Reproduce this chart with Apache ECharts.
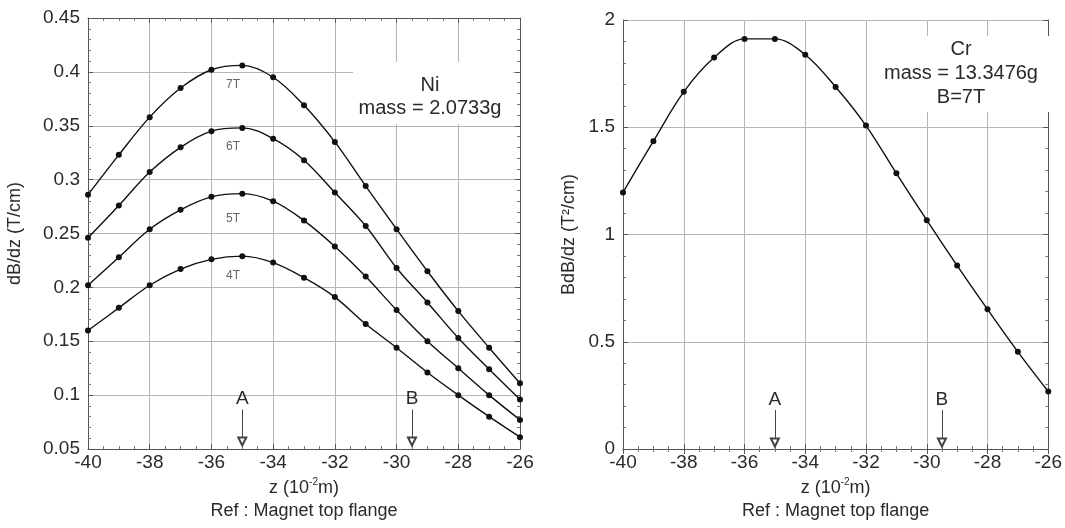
<!DOCTYPE html>
<html>
<head>
<meta charset="utf-8">
<script src="https://cdn.jsdelivr.net/npm/echarts@6/dist/echarts.min.js"></script>
<style>
html, body { margin: 0; padding: 0; background: #fff; }
#main { width: 1065px; height: 528px; }
</style>
</head>
<body>
<div id="main"></div>
<script>
var z = [-40, -39, -38, -37, -36, -35, -34, -33, -32, -31, -30, -29, -28, -27, -26];

// Ni, dB/dz (T/cm)
var ni7T = [0.286, 0.323, 0.358, 0.385, 0.402, 0.406, 0.395, 0.369, 0.335, 0.294, 0.254, 0.215, 0.178, 0.144, 0.111];
var ni6T = [0.246, 0.276, 0.307, 0.330, 0.345, 0.348, 0.338, 0.318, 0.288, 0.257, 0.218, 0.186, 0.153, 0.124, 0.096];
var ni5T = [0.202, 0.228, 0.254, 0.272, 0.284, 0.287, 0.280, 0.262, 0.238, 0.210, 0.179, 0.150, 0.125, 0.100, 0.077];
var ni4T = [0.160, 0.181, 0.202, 0.217, 0.226, 0.229, 0.223, 0.209, 0.191, 0.166, 0.144, 0.121, 0.100, 0.080, 0.061];

// Cr, BdB/dz (T^2/cm), B=7T
var cr7T = [1.196, 1.435, 1.665, 1.825, 1.912, 1.912, 1.838, 1.688, 1.508, 1.285, 1.067, 0.855, 0.651, 0.453, 0.268];

var fieldNames = ['7T', '6T', '5T', '4T'];
var arrowNames = ['A', 'B'];
var arrowZ = [-35, -29.5];

var FONT = '"Liberation Sans", Arial, sans-serif';
var TXT = '#2a2a2a';

function pairs(ys) {
	var out = [];
	for (var i = 0; i < z.length; i++) out.push([z[i], ys[i]]);
	return out;
}

function xAxes(grid) {
	var base = {
		gridIndex: grid,
		type: 'value',
		min: -40,
		max: -26,
		interval: 2,
		axisLine: { show: true, lineStyle: { color: '#555', width: 1 } },
		axisTick: { show: true, inside: true, length: 5, lineStyle: { color: '#555' } },
		minorTick: { show: true, splitNumber: 4, length: 3, lineStyle: { color: '#777' } }
	};
	var bottom = Object.assign({}, base, {
		position: 'bottom',
		splitLine: { show: true, lineStyle: { color: '#b5b5b5', width: 1 } },
		axisLabel: { color: TXT, fontSize: 19, fontFamily: FONT, margin: 4 },
		name: '{a|z (10}{s|-2}{a|m)}\n{a|Ref : Magnet top flange}',
		nameLocation: 'middle',
		nameGap: 28,
		nameTextStyle: {
			color: TXT,
			fontFamily: FONT,
			lineHeight: 23,
			rich: {
				a: { fontSize: 18, fontFamily: FONT, color: TXT, lineHeight: 23 },
				s: { fontSize: 10, fontFamily: FONT, color: TXT, verticalAlign: 'top', lineHeight: 23, padding: [0, 0, 6, 0] }
			}
		}
	});
	var top = Object.assign({}, base, {
		position: 'top',
		splitLine: { show: false },
		axisLabel: { show: false }
	});
	return [bottom, top];
}

function yAxes(grid, min, max, interval, name, gap) {
	var base = {
		gridIndex: grid,
		type: 'value',
		min: min,
		max: max,
		interval: interval,
		axisLine: { show: true, lineStyle: { color: '#555', width: 1 } },
		axisTick: { show: true, inside: true, length: 5, lineStyle: { color: '#555' } },
		minorTick: { show: true, splitNumber: 5, length: 3, lineStyle: { color: '#777' } }
	};
	var left = Object.assign({}, base, {
		position: 'left',
		splitLine: { show: true, lineStyle: { color: '#b5b5b5', width: 1 } },
		axisLabel: { color: TXT, fontSize: 19, fontFamily: FONT, margin: 8 },
		name: name,
		nameLocation: 'middle',
		nameGap: gap,
		nameTextStyle: { color: TXT, fontSize: 18, fontFamily: FONT }
	});
	var right = Object.assign({}, base, {
		position: 'right',
		splitLine: { show: false },
		axisLabel: { show: false }
	});
	return [left, right];
}

var niSets = [ni7T, ni6T, ni5T, ni4T];
// where the field labels sit under each curve peak
var labelAt = [[-35.3, 0.388], [-35.3, 0.331], [-35.3, 0.264], [-35.3, 0.211]];

function curve(xi, yi, ys) {
	return {
		type: 'line',
		xAxisIndex: xi,
		yAxisIndex: yi,
		data: pairs(ys),
		smooth: 0.35,
		symbol: 'circle',
		symbolSize: 6,
		showSymbol: true,
		lineStyle: { color: '#111', width: 1.4 },
		itemStyle: { color: '#111' },
		animation: false,
		z: 3
	};
}

function arrows(yFrom, yTo) {
	var data = [];
	for (var i = 0; i < arrowNames.length; i++) {
		data.push([
			{ name: arrowNames[i], coord: [arrowZ[i], yFrom] },
			{ coord: [arrowZ[i], yTo] }
		]);
	}
	return {
		silent: true,
		animation: false,
		symbol: ['none', 'emptyTriangle'],
		symbolSize: 8,
		lineStyle: { color: '#444', type: 'solid', width: 1 },
		label: { show: true, position: 'start', formatter: '{b}', color: TXT, fontSize: 19, fontFamily: FONT, distance: 1 },
		data: data
	};
}

var series = [];
for (var k = 0; k < niSets.length; k++) {
	var s = curve(0, 0, niSets[k]);
	s.name = fieldNames[k];
	s.markPoint = {
		silent: true,
		animation: false,
		symbol: 'circle',
		symbolSize: 0,
		label: { show: true, position: 'inside', color: '#666', fontSize: 12, fontFamily: FONT, formatter: '{b}' },
		data: [{ name: fieldNames[k], coord: labelAt[k] }]
	};
	if (k === 3) s.markLine = arrows(0.0866, 0.057);
	series.push(s);
}
var cr = curve(2, 2, cr7T);
cr.name = 'Cr';
cr.markLine = arrows(0.182, 0.03);
series.push(cr);

var myChart = echarts.init(document.getElementById('main'), null, { renderer: 'canvas' });
var option = {
	backgroundColor: '#fff',
	textStyle: { fontFamily: FONT },
	grid: [
		{ left: 88, top: 18, width: 432, height: 433 },
		{ left: 623, top: 20, width: 431, height: 431 }
	],
	xAxis: xAxes(0).concat(xAxes(1)),
	yAxis: yAxes(0, 0.05, 0.45, 0.05, 'dB/dz (T/cm)', 64).concat(yAxes(1, 0, 2, 0.5, 'BdB/dz (T\u00b2/cm)', 45)),
	graphic: [
		{
			type: 'rect', z: 1, silent: true,
			shape: { x: 353, y: 62, width: 160, height: 62 },
			style: { fill: '#fff' }
		},
		{
			type: 'text', z: 5, silent: true,
			x: 430, y: 97,
			style: {
				text: 'Ni\nmass = 2.0733g',
				font: '20px ' + FONT,
				fill: TXT,
				align: 'center', verticalAlign: 'middle',
				textAlign: 'center', textVerticalAlign: 'middle',
				lineHeight: 23
			}
		},
		{
			type: 'rect', z: 1, silent: true,
			shape: { x: 876, y: 36, width: 174, height: 76 },
			style: { fill: '#fff' }
		},
		{
			type: 'text', z: 5, silent: true,
			x: 961, y: 73,
			style: {
				text: 'Cr\nmass = 13.3476g\nB=7T',
				font: '20px ' + FONT,
				fill: TXT,
				align: 'center', verticalAlign: 'middle',
				textAlign: 'center', textVerticalAlign: 'middle',
				lineHeight: 24
			}
		}
	],
	series: series
};
myChart.setOption(option);
</script>
</body>
</html>
